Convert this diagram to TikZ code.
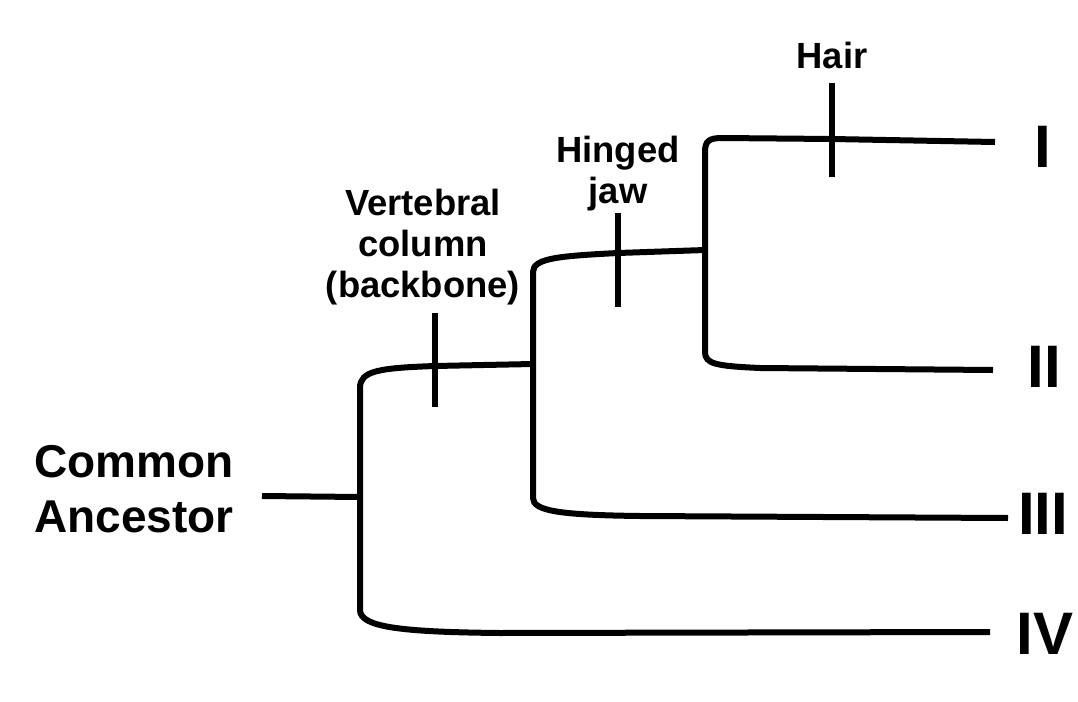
\documentclass[tikz,border=0pt]{standalone}
\usepackage{fontspec}
\setmainfont{Liberation Sans}
\usetikzlibrary{positioning}

\begin{document}
\begin{tikzpicture}[x=0.5pt,y=-0.5pt,
	branch/.style={line width=3pt},
	tick/.style={line width=2.6pt},
	trait/.style={font=\fontsize{18.2}{20.5}\selectfont\bfseries,align=center,inner sep=0pt,anchor=base},
	taxon/.style={font=\fontsize{30}{30}\selectfont\bfseries,inner sep=0pt,anchor=base},
	ancestor/.style={font=\fontsize{23}{27.5}\selectfont\bfseries,align=center,inner sep=0pt,anchor=base}]
	\useasboundingbox (0,0) rectangle (1078,702);

	\coordinate (R) at (262,496);
	\coordinate (A) at (360,497);
	\coordinate (B) at (533,364);
	\coordinate (C) at (705,250);
	\coordinate (T1) at (995,142);
	\coordinate (T2) at (993,370);
	\coordinate (T3) at (1008,518);
	\coordinate (T4) at (990,632);
	\coordinate (V1) at (435,313);
	\coordinate (V2) at (435,407);
	\coordinate (J1) at (618,213);
	\coordinate (J2) at (618,307);
	\coordinate (H1) at (832,83);
	\coordinate (H2) at (832,177);

	\draw[branch] (R) -- (A);
	\draw[branch] (B) -- (435,366) .. controls (378,368) and (360,371) .. (360,388)
		-- (360,610) .. controls (360,627) and (400,632) .. (500,633) -- (T4);
	\draw[branch] (C) -- (618,253) .. controls (560,256) and (533,258) .. (533,272)
		-- (533,498) .. controls (533,511) and (560,515) .. (640,516) -- (T3);
	\draw[branch] (T1) -- (832,139) -- (722,138) .. controls (709,138) and (705,141) .. (705,152)
		-- (705,352) .. controls (705,364) and (716,366) .. (760,368) -- (T2);

	\draw[tick] (V1) -- (V2);
	\draw[tick] (J1) -- (J2);
	\draw[tick] (H1) -- (H2);

	\node (hair) at (832,68) [trait] {Hair};
	\node (jaw) at (618,203) [trait] {Hinged\\jaw};
	\node (spine) at (423,297) [trait] {Vertebral\\column\\(backbone)};
	\node (root) at (134,532) [ancestor] {Common\\Ancestor};

	\node (I) at (1043,167) [taxon] {I};
	\node (II) at (1044,387) [taxon] {II};
	\node (III) at (1043,534) [taxon] {III};
	\node (IV) at (1045,654) [taxon] {IV};
\end{tikzpicture}
\end{document}
